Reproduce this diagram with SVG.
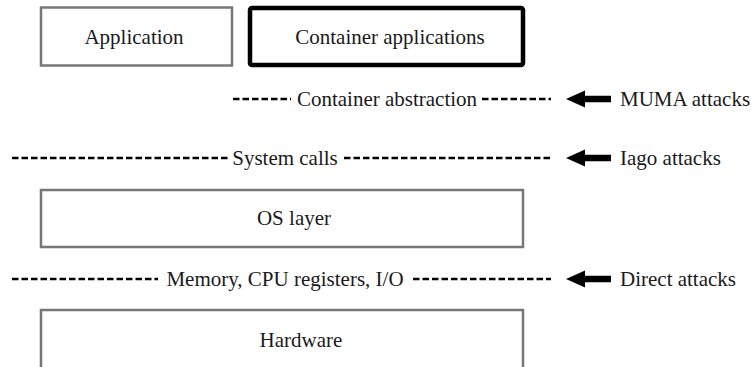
<svg xmlns="http://www.w3.org/2000/svg" width="755" height="367" viewBox="0 0 755 367">
<style>
text{font-family:"Liberation Serif","Times New Roman",serif;font-size:21px;fill:#1a1a1a;}
.c{text-anchor:middle;}
.box{fill:#fff;stroke:#777;stroke-width:2.5;}
.thick{fill:#fff;stroke:#000;stroke-width:4.5;}
.dash{stroke:#000;stroke-width:2.4;stroke-dasharray:6.5 3;fill:none;}
.arr{fill:#000;}
</style>
<defs>
<path id="blk" d="M0 0 L19 -8.5 L19 -3.2 L45 -3.2 L45 3.2 L19 3.2 L19 8.5 Z"/>
</defs>
<rect width="755" height="367" fill="#fff"/>
<g id="application"><rect class="box" x="41" y="7.5" width="191" height="58"/><text class="c" x="134" y="44">Application</text></g>
<g id="container-apps"><rect class="thick" x="250" y="8" width="273" height="57" rx="2"/><text class="c" x="390" y="44">Container applications</text></g>
<g id="os-layer"><rect class="box" x="41" y="190" width="482" height="57"/><text class="c" x="294" y="225">OS layer</text></g>
<g id="hardware"><rect class="box" x="41" y="310" width="482" height="80"/><text class="c" x="301" y="347">Hardware</text></g>
<g id="connectors">
<line class="dash" x1="233" y1="99" x2="291" y2="99"/>
<line class="dash" x1="482" y1="99" x2="551" y2="99"/>
<line class="dash" x1="12" y1="158" x2="228" y2="158"/>
<line class="dash" x1="344" y1="158" x2="551" y2="158"/>
<line class="dash" x1="12" y1="279" x2="158" y2="279"/>
<line class="dash" x1="413" y1="279" x2="551" y2="279"/>
<use href="#blk" class="arr" x="566" y="99"/>
<use href="#blk" class="arr" x="566" y="158"/>
<use href="#blk" class="arr" x="566" y="279"/>
</g>
<g id="labels">
<text class="c" x="387" y="106">Container abstraction</text>
<text class="c" x="285" y="165">System calls</text>
<text class="c" x="285" y="286">Memory, CPU registers, I/O</text>
<text x="620" y="106">MUMA attacks</text>
<text x="620" y="165">Iago attacks</text>
<text x="620" y="286">Direct attacks</text>
</g>
</svg>
